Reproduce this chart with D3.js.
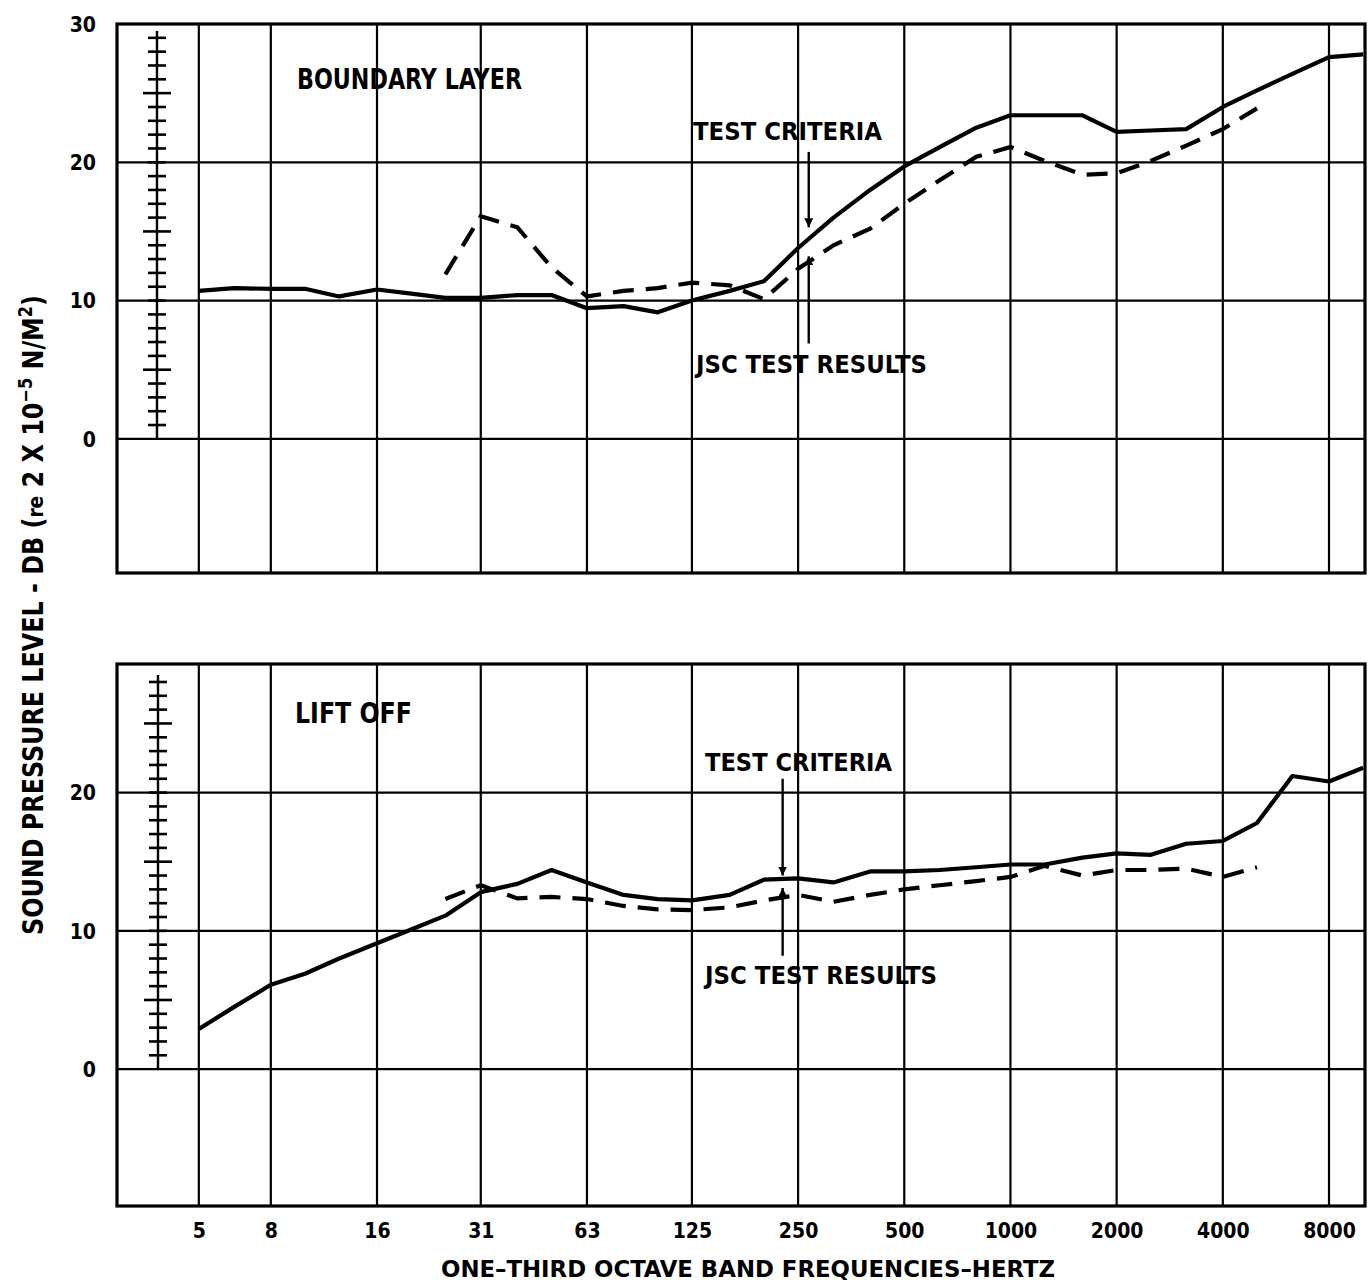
<!DOCTYPE html>
<html>
<head>
<meta charset="utf-8">
<script src="https://cdn.jsdelivr.net/npm/d3@7"></script>
<style>
  html, body { margin: 0; padding: 0; background: #fff; }
  svg { display: block; }
  text { font-family: "Liberation Sans Narrow", "DejaVu Sans Condensed", "Liberation Sans", Arial, sans-serif; font-weight: bold; fill: #000; }
</style>
</head>
<body>
<svg id="chart" width="1368" height="1287"></svg>
<script>
// ---------------- DATA ----------------
const bands = [5, 6.3, 8, 10, 12.5, 16, 20, 25, 31.5, 40, 50, 63, 80, 100, 125, 160, 200, 250, 315, 400,
               500, 630, 800, 1000, 1250, 1600, 2000, 2500, 3150, 4000, 5000, 6300, 8000, 10000];
const jscBands = [25, 31.5, 40, 50, 63, 80, 100, 125, 160, 200, 250, 315, 400, 500, 630, 800, 1000,
                  1250, 1600, 2000, 2500, 3150, 4000, 5000];

// Boundary layer panel
const boundaryCriteria = [10.7, 10.9, 10.85, 10.85, 10.3, 10.8, 10.5, 10.2, 10.2, 10.4, 10.4, 9.45, 9.6, 9.15,
                          10.0, 10.7, 11.4, 13.8, 16.0, 18.0, 19.7, 21.1, 22.5, 23.4, 23.4, 23.4, 22.2, 22.3,
                          22.4, 24.0, 25.2, 26.4, 27.6, 27.8];
const boundaryJSC = [11.9, 16.1, 15.3, 12.4, 10.3, 10.7, 10.9, 11.3, 11.1, 10.1, 12.3, 14.0, 15.2, 17.0,
                     18.7, 20.4, 21.1, 20.1, 19.1, 19.2, 20.1, 21.2, 22.4, 23.9];

// Lift off panel
const liftCriteria = [2.9, 4.5, 6.1, 6.9, 8.0, 9.1, 10.1, 11.1, 12.8, 13.4, 14.4, 13.5, 12.6, 12.3, 12.2,
                      12.6, 13.7, 13.8, 13.5, 14.3, 14.3, 14.4, 14.6, 14.8, 14.8, 15.3, 15.6, 15.5, 16.3,
                      16.5, 17.8, 21.2, 20.8, 21.8];
const liftJSC = [12.3, 13.3, 12.35, 12.45, 12.3, 11.8, 11.55, 11.5, 11.7, 12.2, 12.6, 12.1, 12.6, 13.0,
                 13.3, 13.6, 13.9, 14.7, 14.0, 14.4, 14.4, 14.5, 13.9, 14.6];

// Axis ticks
const xTickFreqs = [5, 8, 16, 31.5, 63, 125, 250, 500, 1000, 2000, 4000, 8000];
const xTickLabels = ["5", "8", "16", "31", "63", "125", "250", "500", "1000", "2000", "4000", "8000"];
const topYTicks = [30, 20, 10, 0];
const bottomYTicks = [20, 10, 0];
const topGridY = [0, 10, 20];
const bottomGridY = [0, 10, 20];
const topRulerTicks = d3.range(1, 30);      // 1..29 dB
const bottomRulerTicks = d3.range(1, 29);   // 1..28 dB
const rulerLong = [5, 15, 25];

// Panel labels & annotations (freq, value)
const panelTitles = ["BOUNDARY LAYER", "LIFT OFF"];
const annotTop = { criteriaText: "TEST CRITERIA", jscText: "JSC TEST RESULTS",
                   arrowFreq: 268, critFrom: 20.75, critTo: 15.3, jscFrom: 6.9, jscTo: 13.2 };
const annotBottom = { criteriaText: "TEST CRITERIA", jscText: "JSC TEST RESULTS",
                      arrowFreq: 226, critFrom: 21.0, critTo: 14.0, jscFrom: 8.2, jscTo: 13.1 };

// ---------------- LAYOUT ----------------
const svg = d3.select("#chart");
const xLeft = 117, xRight = 1365;
const x = d3.scaleLog().domain([16, 8000]).range([377, 1329]);

const panels = [
  { top: 24, bottom: 573, domain: [-9.7, 30], ticks: topYTicks, grid: topGridY, ruler: topRulerTicks,
    crit: boundaryCriteria, jsc: boundaryJSC, title: panelTitles[0], annot: annotTop,
    titlePos: [297, 89, 225, 29],
    critPos: [693, 140, 189], jscPos: [696, 373, 231], rulerX: 157 },
  { top: 664, bottom: 1206, domain: [-9.9, 29.3], ticks: bottomYTicks, grid: bottomGridY, ruler: bottomRulerTicks,
    crit: liftCriteria, jsc: liftJSC, title: panelTitles[1], annot: annotBottom,
    titlePos: [295, 723, 117, 28],
    critPos: [705, 771, 187], jscPos: [705, 984, 232], rulerX: 158 }
];

// arrow marker
const defs = svg.append("defs");
defs.append("marker")
  .attr("id", "arrow").attr("viewBox", "0 0 10 10")
  .attr("refX", 10).attr("refY", 5)
  .attr("markerWidth", 9).attr("markerHeight", 14)
  .attr("markerUnits", "userSpaceOnUse")
  .attr("orient", "auto")
  .append("path").attr("d", "M0,0 L10,5 L0,10 Z").attr("fill", "#000");

panels.forEach(p => {
  const y = d3.scaleLinear().domain(p.domain).range([p.bottom, p.top]);
  const g = svg.append("g");

  // vertical grid lines
  g.selectAll(".vg").data(xTickFreqs).enter().append("line")
    .attr("x1", d => x(d)).attr("x2", d => x(d))
    .attr("y1", p.top).attr("y2", p.bottom)
    .attr("stroke", "#000").attr("stroke-width", 2.2);

  // horizontal grid lines
  g.selectAll(".hg").data(p.grid).enter().append("line")
    .attr("x1", xLeft).attr("x2", xRight)
    .attr("y1", d => y(d)).attr("y2", d => y(d))
    .attr("stroke", "#000").attr("stroke-width", 2.2);

  // frame
  g.append("rect").attr("x", xLeft).attr("y", p.top)
    .attr("width", xRight - xLeft).attr("height", p.bottom - p.top)
    .attr("fill", "none").attr("stroke", "#000").attr("stroke-width", 3.2);

  // Y tick labels via axis
  const yAxis = d3.axisLeft(y).tickValues(p.ticks).tickSize(0).tickPadding(0).tickFormat(d3.format("d"));
  const ya = g.append("g").attr("transform", `translate(96,0)`).call(yAxis);
  ya.select(".domain").remove();
  ya.selectAll("text").attr("font-size", 21).attr("font-weight", "bold")
    .attr("font-family", "\"Liberation Sans\", Arial, sans-serif").attr("dy", "0.35em");

  // ruler scale
  const top = p.ruler[p.ruler.length - 1] + 0.5;
  g.append("line").attr("x1", p.rulerX).attr("x2", p.rulerX)
    .attr("y1", y(0)).attr("y2", y(top)).attr("stroke", "#000").attr("stroke-width", 2.4);
  g.selectAll(".rt").data(p.ruler).enter().append("line")
    .attr("x1", d => p.rulerX - (rulerLong.includes(d) ? 14 : 9))
    .attr("x2", d => p.rulerX + (rulerLong.includes(d) ? 14 : 9))
    .attr("y1", d => y(d)).attr("y2", d => y(d))
    .attr("stroke", "#000").attr("stroke-width", 2.6);

  // data lines
  const lineGen = d3.line().x(d => x(d[0])).y(d => y(d[1]));
  g.append("path").datum(bands.map((f, i) => [f, p.crit[i]]))
    .attr("d", lineGen).attr("fill", "none").attr("stroke", "#000")
    .attr("stroke-width", 4.2).attr("stroke-linejoin", "round");
  g.append("path").datum(jscBands.map((f, i) => [f, p.jsc[i]]))
    .attr("d", lineGen).attr("fill", "none").attr("stroke", "#000")
    .attr("stroke-width", 4.2).attr("stroke-dasharray", "21,12");

  // panel title
  g.append("text").attr("x", p.titlePos[0]).attr("y", p.titlePos[1])
    .attr("font-size", p.titlePos[3]).attr("textLength", p.titlePos[2])
    .attr("lengthAdjust", "spacingAndGlyphs").text(p.title);

  // annotations
  g.append("text").attr("x", p.critPos[0]).attr("y", p.critPos[1])
    .attr("font-size", 24).attr("textLength", p.critPos[2])
    .attr("lengthAdjust", "spacingAndGlyphs").text(p.annot.criteriaText);
  g.append("text").attr("x", p.jscPos[0]).attr("y", p.jscPos[1])
    .attr("font-size", 25).attr("textLength", p.jscPos[2])
    .attr("lengthAdjust", "spacingAndGlyphs").text(p.annot.jscText);

  const ax = x(p.annot.arrowFreq);
  g.append("line").attr("x1", ax).attr("x2", ax)
    .attr("y1", y(p.annot.critFrom)).attr("y2", y(p.annot.critTo))
    .attr("stroke", "#000").attr("stroke-width", 2.4).attr("marker-end", "url(#arrow)");
  g.append("line").attr("x1", ax).attr("x2", ax)
    .attr("y1", y(p.annot.jscFrom)).attr("y2", y(p.annot.jscTo))
    .attr("stroke", "#000").attr("stroke-width", 2.4).attr("marker-end", "url(#arrow)");

  p.yScale = y;
});

// X axis labels (below bottom panel)
const xAxis = d3.axisBottom(x).tickValues(xTickFreqs).tickSize(0).tickPadding(0)
  .tickFormat((d, i) => xTickLabels[i]);
const xa = svg.append("g").attr("transform", "translate(0,1238)").call(xAxis);
xa.select(".domain").remove();
xa.selectAll("text").attr("font-size", 21).attr("dy", "0")
  .attr("font-family", "\"Liberation Sans\", Arial, sans-serif").attr("font-weight", "bold");

// X axis title
svg.append("text").attr("x", 441).attr("y", 1277)
  .attr("font-size", 23).attr("textLength", 614).attr("lengthAdjust", "spacingAndGlyphs")
  .text("ONE\u2013THIRD OCTAVE BAND FREQUENCIES\u2013HERTZ");

// Y axis title (rotated)
const yt = svg.append("text")
  .attr("transform", "translate(43,935) rotate(-90)")
  .attr("x", 0).attr("y", 0)
  .attr("font-size", 28).attr("textLength", 640).attr("lengthAdjust", "spacingAndGlyphs");
yt.append("tspan").text("SOUND PRESSURE LEVEL - DB (");
yt.append("tspan").attr("font-size", 22).text("re");
yt.append("tspan").text(" 2 X 10");
yt.append("tspan").attr("font-size", 19).attr("dy", -11).text("\u22125");
yt.append("tspan").attr("dy", 11).text(" N/M");
yt.append("tspan").attr("font-size", 19).attr("dy", -11).text("2");
yt.append("tspan").attr("dy", 11).text(")");
</script>
</body>
</html>
